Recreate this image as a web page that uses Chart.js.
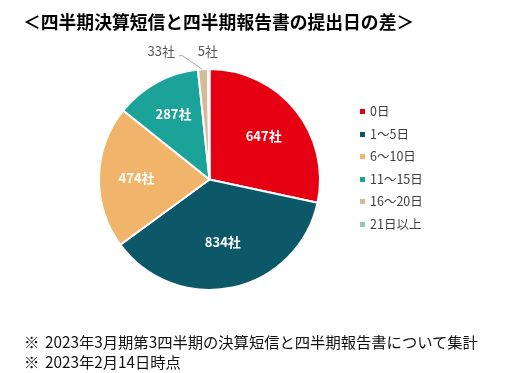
<!DOCTYPE html>
<html>
<head>
<meta charset="utf-8">
<script src="https://cdn.jsdelivr.net/npm/chart.js@4"></script>
<style>
  html, body { margin:0; padding:0; background:#fff; }
  body { width:527px; height:373px; position:relative; overflow:hidden; font-family:"Noto Sans CJK JP","Noto Sans",sans-serif; }
  #wrap { position:absolute; left:0; top:0; width:527px; height:373px; }
  #title { position:absolute; left:23px; top:9px; font-size:17.8px; font-weight:bold; color:#000; white-space:nowrap; line-height:24px; }
  #legend { position:absolute; left:360px; top:101px; font-size:12.5px; color:#404040; }
  #legend .item { height:22.6px; line-height:20px; white-space:nowrap; position:relative; padding-left:10px; }
  #legend .sw { position:absolute; left:0; top:8px; width:5px; height:5px; }
  #notes { position:absolute; left:24px; top:331px; font-size:15.3px; color:#111; line-height:20px; white-space:nowrap; }
  #notes .k { display:inline-block; width:21px; }
</style>
</head>
<body>
<div id="wrap"><canvas id="c" width="527" height="373"></canvas></div>
<div id="title">＜四半期決算短信と四半期報告書の提出日の差＞</div>
<div id="legend"></div>
<div id="notes"><span class="k">※</span>2023年3月期第3四半期の決算短信と四半期報告書について集計<br><span class="k">※</span>2023年2月14日時点</div>
<script>
const categories = ["0日", "1～5日", "6～10日", "11～15日", "16～20日", "21日以上"];
const values = [647, 834, 474, 287, 33, 5];
const valueLabels = ["647社", "834社", "474社", "287社", "33社", "5社"];
const colors = ["#E50012", "#0D5868", "#F0B46B", "#1BA39A", "#D5BA98", "#93C9BD"];

// legend built from arrays
const lg = document.getElementById('legend');
categories.forEach((c, i) => {
  const d = document.createElement('div');
  d.className = 'item';
  d.innerHTML = '<span class="sw" style="background:' + colors[i] + '"></span>' + c;
  lg.appendChild(d);
});

const insideFactor = [0.63, 0.58, 0.66, 0.68];
const outsideOffsets = [null, null, null, null, {dx:-28, dy:-18, align:'right', leader:true}, {dx:-11, dy:-18, align:'left', leader:false}];

const labelPlugin = {
  id: 'sliceLabels',
  afterDatasetsDraw(chart) {
    const ctx = chart.ctx;
    const meta = chart.getDatasetMeta(0);
    meta.data.forEach((arc, i) => {
      const p = arc.getProps(['x','y','startAngle','endAngle','outerRadius'], true);
      const mid = (p.startAngle + p.endAngle) / 2;
      ctx.save();
      ctx.textBaseline = 'middle';
      if (i < 4) {
        const r = p.outerRadius * insideFactor[i];
        ctx.fillStyle = '#fff';
        ctx.font = 'bold 13px "Noto Sans CJK JP", sans-serif';
        ctx.textAlign = 'center';
        ctx.fillText(valueLabels[i], p.x + Math.cos(mid) * r, p.y + Math.sin(mid) * r);
      } else {
        const o = outsideOffsets[i];
        const ax = p.x + Math.cos(mid) * p.outerRadius;
        const ay = p.y + Math.sin(mid) * p.outerRadius;
        const tx = ax + o.dx, ty = ay + o.dy;
        if (o.leader) {
          ctx.strokeStyle = '#A6A6A6';
          ctx.lineWidth = 1;
          ctx.beginPath();
          ctx.moveTo(tx + 4, ty + 4.5);
          ctx.lineTo(tx + 7.5, ty + 4.5);
          ctx.lineTo(ax - 1, ay);
          ctx.stroke();
        }
        ctx.fillStyle = '#595959';
        ctx.font = '13px "Noto Sans CJK JP", sans-serif';
        ctx.textAlign = o.align;
        ctx.fillText(valueLabels[i], tx, ty);
      }
      ctx.restore();
    });
  }
};

new Chart(document.getElementById('c'), {
  type: 'pie',
  data: {
    labels: categories,
    datasets: [{
      data: values,
      backgroundColor: colors,
      borderColor: '#ffffff',
      borderWidth: 2,
      hoverOffset: 0
    }]
  },
  options: {
    responsive: false,
    animation: false,
    events: [],
    layout: { padding: { left: 98, right: 206, top: 68, bottom: 82 } },
    plugins: { legend: { display: false }, tooltip: { enabled: false } }
  },
  plugins: [labelPlugin]
});
</script>
</body>
</html>
